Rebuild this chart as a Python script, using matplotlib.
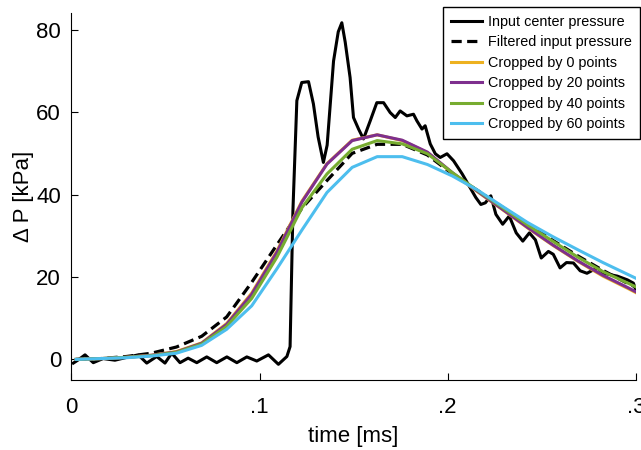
import numpy as np
import matplotlib.pyplot as plt

plt.rcParams['font.family'] = ['Liberation Sans', 'DejaVu Sans']

# raw input centre pressure (time in ms, pressure in kPa)
t_in = [0.001, 0.004, 0.0072, 0.0116, 0.0168, 0.0231, 0.0295, 0.0355, 0.040, 0.0453,
        0.0497, 0.0533, 0.0577, 0.062, 0.0666, 0.0719, 0.0772, 0.0826, 0.0879, 0.0932,
        0.0985, 0.1047, 0.110, 0.1145, 0.1162, 0.1177, 0.1198, 0.1224, 0.126, 0.1286,
        0.1311, 0.1339, 0.1359, 0.1393, 0.1418, 0.1437, 0.1455, 0.1481, 0.1499, 0.1526,
        0.1552, 0.1588, 0.1623, 0.1659, 0.1694, 0.1721, 0.1747, 0.1783, 0.1818, 0.1836,
        0.1863, 0.188, 0.1907, 0.1934, 0.196, 0.1996, 0.2031, 0.2077, 0.2149, 0.2176,
        0.2200, 0.2229, 0.2256, 0.2292, 0.2327, 0.2364, 0.2399, 0.2434, 0.2466, 0.2497,
        0.2535, 0.2561, 0.2597, 0.2631, 0.2668, 0.2704, 0.274, 0.2794, 0.2829, 0.2902,
        0.2955, 0.2987, 0.300]
p_in = [-0.9, 0.0, 1.1, -0.8, 0.2, -0.2, 0.5, 1.1, -0.9, 0.7,
        -0.9, 1.5, -0.8, 0.3, -0.8, 0.6, -0.8, 0.6, -0.8, 0.6,
        -0.4, 1.1, -1.2, 0.7, 3.1, 36.0, 62.8, 67.2, 67.4, 62.0,
        54.0, 47.8, 52.0, 72.4, 79.5, 81.7, 77.0, 68.4, 58.7, 55.9,
        53.5, 57.9, 62.3, 62.3, 59.9, 58.7, 60.3, 59.1, 59.5, 57.9,
        55.9, 56.7, 52.3, 49.9, 49.0, 49.9, 48.2, 45.0, 39.3, 37.6,
        38.0, 39.7, 35.2, 32.8, 34.8, 30.7, 28.7, 30.7, 29.0, 24.6,
        26.2, 25.5, 22.2, 23.5, 23.4, 21.5, 20.9, 22.2, 20.9, 20.2,
        19.3, 18.5, 16.8]

# sample times of the filtered / cropped signals
t_f = [0.0025, 0.0158, 0.0292, 0.0425, 0.0558, 0.0692, 0.0825, 0.0958, 0.1092, 0.1225,
       0.1358, 0.1492, 0.1625, 0.1758, 0.1892, 0.2025, 0.2158, 0.2292, 0.2425, 0.2558,
       0.2692, 0.2825, 0.2958, 0.3092]
p_filt = [0.0, 0.2, 0.7, 1.5, 3.0, 5.6, 10.3, 18.7, 27.8, 36.7,
          43.4, 50.0, 52.2, 52.2, 49.6, 45.0, 41.0, 36.9, 32.9, 28.9,
          25.1, 21.6, 18.4, 15.6]
p_crop0 = [0.0, 0.2, 0.5, 1.0, 1.9, 4.0, 8.7, 16.1, 26.3, 38.4,
           47.5, 53.2, 54.5, 53.1, 50.2, 45.2, 40.7, 36.3, 31.9, 27.7,
           23.8, 20.2, 17.2, 14.0]
p_crop20 = [0.0, 0.2, 0.5, 1.0, 1.8, 3.9, 8.5, 15.8, 26.0, 38.2,
            47.4, 53.1, 54.5, 53.2, 50.3, 45.3, 40.8, 36.4, 32.0, 27.8,
            23.9, 20.4, 17.4, 14.2]
p_crop40 = [0.0, 0.2, 0.5, 0.9, 1.7, 3.7, 8.0, 14.8, 24.8, 36.8,
            45.0, 51.0, 53.1, 52.3, 49.9, 45.3, 41.0, 36.8, 32.6, 28.7,
            24.8, 21.3, 18.5, 15.6]
p_crop60 = [0.0, 0.2, 0.4, 0.8, 1.5, 3.4, 7.3, 13.0, 22.0, 31.4,
            40.5, 46.6, 49.2, 49.2, 47.3, 44.5, 41.1, 37.1, 33.2, 29.8,
            26.6, 23.5, 20.6, 17.7]

fig = plt.figure(figsize=(6.41, 4.5), dpi=100)
ax = fig.add_axes([0.1115, 0.1556, 0.8805, 0.8149])

ax.plot(t_in, p_in, color='black', lw=2.2, label='Input center pressure')
ax.plot(t_f, p_filt, color='black', lw=2.3, ls=(0, (3.2, 1.7)), label='Filtered input pressure')
ax.plot(t_f, p_crop0, color='#EDB120', lw=2.2, label='Cropped by 0 points')
ax.plot(t_f, p_crop20, color='#7E2F8E', lw=2.2, label='Cropped by 20 points')
ax.plot(t_f, p_crop40, color='#77AC30', lw=2.2, label='Cropped by 40 points')
ax.plot(t_f, p_crop60, color='#4DBEEE', lw=2.2, label='Cropped by 60 points')

ax.set_xlim(0, 0.3)
ax.set_ylim(-5, 84)
ax.set_xticks([0, 0.1, 0.2, 0.3])
ax.set_xticklabels(['0', '.1', '.2', '.3'])
ax.set_yticks([0, 20, 40, 60, 80])
ax.tick_params(direction='in', length=5, width=0.8, labelsize=16)
ax.tick_params(axis='x', pad=12)
ax.tick_params(axis='y', pad=7.5)
for s in ['top', 'right']:
    ax.spines[s].set_visible(False)
ax.set_xlabel('time [ms]', fontsize=16, labelpad=6)
ax.set_ylabel('Δ P [kPa]', fontsize=16, labelpad=2)

leg = ax.legend(loc='upper right', bbox_to_anchor=(640 / 641, 1 - 7 / 450),
                bbox_transform=fig.transFigure, fontsize=10.4, frameon=True,
                fancybox=False, edgecolor='black', framealpha=1,
                handlelength=2.15, handletextpad=0.45, labelspacing=0.45,
                borderpad=0.55, borderaxespad=0)
leg.get_frame().set_linewidth(1.0)

fig.savefig('out.png', dpi=100)
plt.close()
